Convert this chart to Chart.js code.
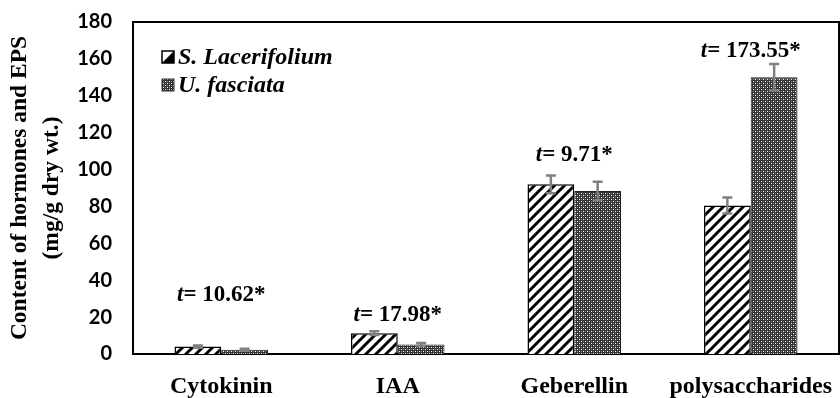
<!DOCTYPE html>
<html>
<head>
<meta charset="utf-8">
<script src="https://cdn.jsdelivr.net/npm/chart.js@4/dist/chart.umd.min.js"></script>
<style>
  html, body { margin: 0; padding: 0; background: #fff; }
  #c { display: block; }
</style>
</head>
<body>
<canvas id="c" width="840" height="398"></canvas>
<script>
// ---------- data ----------
const categories = ['Cytokinin', 'IAA', 'Geberellin', 'polysaccharides'];
const seriesNames = ['S. Lacerifolium', 'U. fasciata'];
const sLacerifolium = [4.0, 11.3, 92.0, 80.5];
const uFasciata = [2.3, 5.2, 88.4, 150.0];
const sErr = [0.6, 1.0, 4.8, 4.3];
const uErr = [0.5, 0.8, 5.0, 7.2];
const tLabels = ['10.62*', '17.98*', '9.71*', '173.55*'];
const tLabelY = [32, 21, 108, 164];
const yTicks = [0, 20, 40, 60, 80, 100, 120, 140, 160, 180];

// ---------- patterns ----------
function hatchPattern() {
  const s = 10;
  const c = document.createElement('canvas');
  c.width = s; c.height = s;
  const g = c.getContext('2d');
  g.fillStyle = '#fff'; g.fillRect(0, 0, s, s);
  g.strokeStyle = '#000'; g.lineWidth = 3;
  g.beginPath();
  g.moveTo(-2, 2); g.lineTo(2, -2);
  g.moveTo(0, s); g.lineTo(s, 0);
  g.moveTo(s - 2, s + 2); g.lineTo(s + 2, s - 2);
  g.stroke();
  return g.createPattern(c, 'repeat');
}
function crossPattern() {
  const s = 4;
  const c = document.createElement('canvas');
  c.width = s; c.height = s;
  const g = c.getContext('2d');
  g.fillStyle = '#333333'; g.fillRect(0, 0, s, s);
  g.fillStyle = '#ffffff';
  g.fillRect(1, 1, 1, 1);
  g.fillRect(3, 3, 1, 1);
  g.fillStyle = '#8a8a8a';
  g.fillRect(3, 1, 1, 1);
  g.fillRect(1, 3, 1, 1);
  return g.createPattern(c, 'repeat');
}
const hatch = hatchPattern();
const cross = crossPattern();

const SERIF = "'Liberation Serif', 'Times New Roman', serif";

// ---------- plugin: frame, error bars, annotations, legend, y title ----------
const extras = {
  id: 'extras',
  afterDatasetsDraw(chart) {
    const ctx = chart.ctx;
    const ys = chart.scales.y;
    const errs = [sErr, uErr];
    const vals = [sLacerifolium, uFasciata];
    ctx.save();
    ctx.strokeStyle = '#808080';
    ctx.lineWidth = 2.5;
    chart.data.datasets.forEach((ds, di) => {
      const meta = chart.getDatasetMeta(di);
      meta.data.forEach((bar, i) => {
        const x = bar.x;
        const yTop = ys.getPixelForValue(vals[di][i] + errs[di][i]);
        const yBot = ys.getPixelForValue(vals[di][i] - errs[di][i]);
        ctx.beginPath();
        ctx.moveTo(x, yTop); ctx.lineTo(x, yBot);
        ctx.moveTo(x - 5, yTop); ctx.lineTo(x + 5, yTop);
        ctx.moveTo(x - 5, yBot); ctx.lineTo(x + 5, yBot);
        ctx.stroke();
      });
    });
    ctx.restore();
  },
  afterDraw(chart) {
    const ctx = chart.ctx;
    const ca = chart.chartArea;
    const xs = chart.scales.x;
    const ys = chart.scales.y;
    ctx.save();
    // frame top & right
    ctx.strokeStyle = '#000';
    ctx.lineWidth = 2;
    ctx.beginPath();
    ctx.moveTo(ca.left, ca.top); ctx.lineTo(ca.right, ca.top); ctx.lineTo(ca.right, ca.bottom);
    ctx.stroke();

    // t annotations
    ctx.fillStyle = '#000';
    ctx.textBaseline = 'middle';
    categories.forEach((c, i) => {
      const cx = xs.getPixelForValue(i);
      const cy = ys.getPixelForValue(tLabelY[i]);
      const p1 = 't';
      const p2 = '= ' + tLabels[i];
      const f1 = "italic bold 23px " + SERIF;
      const f2 = "bold 23px " + SERIF;
      ctx.font = f1; const w1 = ctx.measureText(p1).width;
      ctx.font = f2; const w2 = ctx.measureText(p2).width;
      const x0 = cx - (w1 + w2) / 2;
      ctx.textAlign = 'left';
      ctx.font = f1; ctx.fillText(p1, x0, cy);
      ctx.font = f2; ctx.fillText(p2, x0 + w1, cy);
    });

    // legend
    const lx = ca.left + 29, ly0 = ca.top + 35, lstep = 28;
    seriesNames.forEach((name, i) => {
      const y = ly0 + i * lstep;
      if (i === 0) {
        ctx.fillStyle = '#fff';
        ctx.fillRect(lx, y - 6, 12, 12);
        ctx.fillStyle = '#000';
        ctx.beginPath();
        ctx.moveTo(lx + 12, y - 6); ctx.lineTo(lx + 12, y + 6); ctx.lineTo(lx, y + 6);
        ctx.closePath(); ctx.fill();
        ctx.strokeStyle = '#000'; ctx.lineWidth = 1.5;
        ctx.strokeRect(lx, y - 6, 12, 12);
      } else {
        ctx.fillStyle = cross;
        ctx.fillRect(lx, y - 6, 12, 12);
        ctx.strokeStyle = '#333'; ctx.lineWidth = 1;
        ctx.strokeRect(lx, y - 6, 12, 12);
      }
      ctx.fillStyle = '#000';
      ctx.font = "italic bold 24px " + SERIF;
      ctx.textAlign = 'left';
      ctx.textBaseline = 'middle';
      ctx.fillText(name, lx + 16, y + 1);
    });

    // y title
    ctx.translate(0, (ca.top + ca.bottom) / 2);
    ctx.rotate(-Math.PI / 2);
    ctx.textAlign = 'center';
    ctx.textBaseline = 'middle';
    ctx.font = "bold 23.5px " + SERIF;
    ctx.fillText('Content of hormones and EPS', 0, 20);
    ctx.fillText('(mg/g dry wt.)', 0, 52);
    ctx.restore();
  }
};

new Chart(document.getElementById('c'), {
  type: 'bar',
  data: {
    labels: categories,
    datasets: [
      {
        label: seriesNames[0],
        data: sLacerifolium,
        backgroundColor: hatch,
        borderColor: '#000',
        borderWidth: 1.5,
        categoryPercentage: 0.53,
        barPercentage: 1.0
      },
      {
        label: seriesNames[1],
        data: uFasciata,
        backgroundColor: cross,
        borderColor: '#222',
        borderWidth: 1,
        categoryPercentage: 0.53,
        barPercentage: 1.0
      }
    ]
  },
  options: {
    responsive: false,
    animation: false,
    devicePixelRatio: 1,
    layout: { padding: { left: 0, right: 1, top: 22, bottom: 0 } },
    plugins: { legend: { display: false }, tooltip: { enabled: false } },
    scales: {
      x: {
        grid: { display: false, drawTicks: false },
        border: { display: true, color: '#000', width: 2 },
        ticks: {
          color: '#000',
          padding: 18,
          font: { family: SERIF, size: 24, weight: 'bold' }
        },
        afterFit(s) { s.height = 44; s.paddingLeft = 0; s.paddingRight = 0; }
      },
      y: {
        min: 0,
        max: 180,
        grid: { display: false, drawTicks: false },
        border: { display: true, color: '#000', width: 2 },
        afterBuildTicks(s) { s.ticks = yTicks.map(v => ({ value: v })); },
        ticks: {
          color: '#000',
          padding: 21,
          font: { family: "Lato, 'Open Sans', sans-serif", size: 20, weight: 'bold' }
        },
        afterFit(s) { s.width = 133; s.paddingTop = 0; s.paddingBottom = 0; }
      }
    }
  },
  plugins: [extras]
});
</script>
</body>
</html>
